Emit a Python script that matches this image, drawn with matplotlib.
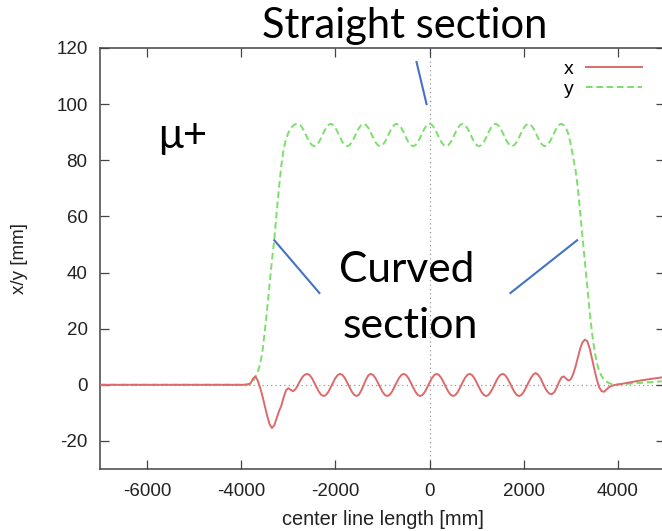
import matplotlib
matplotlib.use("Agg")
import matplotlib.pyplot as plt

plt.rcParams["axes.unicode_minus"] = False

# sample positions along the centre line [mm]
pos_mm = [-7000] + list(range(-4000, 4001, 50)) + [4500, 5000]

# horizontal offset x [mm]
x_mm = [
    0.0,
    # -4000 .. -3650
    0.0, 0.0, 0.1, 0.2, 0.6, 2.2, 3.0, 1.5,
    # -3600 .. -2650
    -1.0, -4.0, -7.5, -11.0, -14.0, -15.4, -14.5, -12.0, -9.5, -7.5,
    -4.5, -2.0, -1.2, -1.8, -2.3, -1.6, -0.2, 1.4, 2.8, 3.6,
    # -2600 .. 2600
    3.9, 3.5, 2.4, 0.8, -0.9, -2.5, -3.6, -4.0, -3.6, -2.5, -0.9, 0.8, 2.4, 3.5,
    3.9, 3.5, 2.4, 0.8, -0.9, -2.5, -3.6, -4.0, -3.5, -2.0, 0.0, 1.9, 3.4, 3.9,
    3.5, 2.4, 0.8, -0.9, -2.5, -3.6, -4.0, -3.6, -2.5, -0.9, 0.8, 2.4, 3.5, 3.9,
    3.5, 2.4, 0.8, -0.9, -2.5, -3.6, -4.0, -3.6, -2.5, -0.9, 0.8, 2.4, 3.5, 3.9,
    3.5, 2.4, 0.8, -0.9, -2.5, -3.6, -4.0, -3.6, -2.5, -0.9, 0.8, 2.4, 3.5, 3.9,
    3.5, 2.4, 0.8, -0.9, -2.5, -3.6, -4.0, -3.6, -2.5, -0.9, 0.8, 2.4, 3.5, 3.9,
    3.5, 2.4, 0.8, -0.9, -2.5, -3.6, -4.0, -3.6, -2.5, -0.9, 0.8, 2.4, 3.6, 4.2,
    3.7, 2.5, 0.8, -1.0, -2.4, -3.2, -3.3,
    # 2650 .. 4000
    -2.6, -1.0, 1.0, 2.6, 3.0, 2.2, 1.5, 2.0, 3.8, 6.5,
    9.8, 13.0, 15.2, 16.1, 15.5, 13.0, 9.2, 5.5, 2.0, -0.8,
    -2.2, -2.5, -1.8, -1.0, -0.5, -0.2, 0.0, 0.1,
    1.6, 2.8,
]

# vertical offset y [mm]
y_mm = [
    0.0,
    # -4000 .. -3650
    0.0, 0.0, 0.0, 0.1, 0.4, 1.2, 2.8, 4.6,
    # -3600 .. -2850
    7.3, 12.0, 19.0, 27.0, 35.5, 44.0, 51.5, 61.0, 70.0, 78.0,
    84.0, 87.5, 89.8, 91.3, 92.3, 92.9,
    # -2800 .. 2800
    93.0, 92.6, 91.5, 89.9, 88.1, 86.5, 85.4, 85.0, 85.4, 86.5, 88.1, 89.9, 91.5, 92.6,
    93.0, 92.6, 91.5, 89.9, 88.1, 86.5, 85.4, 85.0, 85.4, 86.5, 88.1, 89.9, 91.5, 92.6,
    93.0, 92.6, 91.5, 89.9, 88.1, 86.5, 85.4, 85.0, 85.4, 86.5, 88.1, 89.9, 91.5, 92.6,
    93.0, 92.6, 91.5, 89.9, 88.1, 86.5, 85.4, 85.0, 85.4, 86.5, 88.1, 89.9, 91.5, 92.6,
    93.0, 92.6, 91.5, 89.9, 88.1, 86.5, 85.4, 85.0, 85.4, 86.5, 88.1, 89.9, 91.5, 92.6,
    93.0, 92.6, 91.5, 89.9, 88.1, 86.5, 85.4, 85.0, 85.4, 86.5, 88.1, 89.9, 91.5, 92.6,
    93.0, 92.6, 91.5, 89.9, 88.1, 86.5, 85.4, 85.0, 85.4, 86.5, 88.1, 89.9, 91.5, 92.6,
    93.0, 92.6, 91.5, 89.9, 88.1, 86.5, 85.4, 85.0, 85.4, 86.5, 88.1, 89.9, 91.5, 92.6,
    93.0,
    # 2850 .. 4000
    92.5, 91.3, 89.3, 85.5, 81.0, 76.5, 70.0, 61.0, 52.5, 43.5,
    35.0, 26.0, 18.5, 12.5, 8.0, 5.0, 3.2, 2.0, 1.2, 0.7,
    0.4, 0.2, 0.1, 0.1,
    0.7, 1.3,
]

xticks = [-6000, -4000, -2000, 0, 2000, 4000]
yticks = [-20, 0, 20, 40, 60, 80, 100, 120]

W, H = 662, 531
fig = plt.figure(figsize=(W / 100, H / 100), dpi=100)
# right frame edge sits just past the image border
ax = fig.add_axes([100 / W, 62 / H, 565 / W, 421 / H])

tick_family = ["Liberation Sans", "DejaVu Sans"]

ax.axhline(0, color="#9a9a9a", lw=0.9, ls=(0, (1, 2.5)), zorder=1)
ax.axvline(0, color="#9a9a9a", lw=0.9, ls=(0, (1, 2.5)), zorder=1)

ax.plot(pos_mm, x_mm, color="#dd6a6a", lw=1.4, label="x", zorder=3)
ax.plot(pos_mm, y_mm, color="#7ae06a", lw=1.4, ls=(0, (3.4, 1.9)), label="y", zorder=2)

ax.set_xlim(-7000, 5000)
ax.set_ylim(-30, 120)
ax.set_xticks(xticks)
ax.set_yticks(yticks)
ax.tick_params(direction="in", top=True, right=True, length=6.5, width=0.9,
               color="#444444", labelsize=13.5, labelcolor="#222222")
ax.tick_params(axis="y", pad=9)
ax.tick_params(axis="x", pad=10)
for lab in ax.get_xticklabels() + ax.get_yticklabels():
    lab.set_family(tick_family)
for sp in ax.spines.values():
    sp.set_color("#444444")
    sp.set_linewidth(1.1)

ax.set_xlabel("center line length [mm]", fontsize=14.4, color="#222222",
              family=tick_family, labelpad=7)
ax.set_ylabel("x/y [mm]", fontsize=13.5, color="#222222",
              family=tick_family, labelpad=20)

ax.legend(loc="upper right", bbox_to_anchor=(642 / W, 1 - 60 / H),
          bbox_transform=fig.transFigure, frameon=False, markerfirst=False,
          prop=dict(family=tick_family, size=14),
          handlelength=2.9, handletextpad=0.6, labelspacing=0.12,
          borderpad=0, borderaxespad=0)

# slide annotations
blue = "#4472c4"
ax.plot([-3298, -2340], [51.5, 32.7], color=blue, lw=1.5, zorder=4)
ax.plot([1717, 3134], [32.7, 51.5], color=blue, lw=1.5, zorder=4)
ax.plot([-277, -64], [115.0, 100.0], color=blue, lw=1.5, zorder=4)

slide_family = ["Lato", "DejaVu Sans"]
fig.text(405 / W, 1 - 38 / H, "Straight section", ha="center", va="baseline",
         fontsize=30, family=slide_family)
fig.text(407 / W, 1 - 282 / H, "Curved", ha="center", va="baseline",
         fontsize=30.5, family=slide_family)
fig.text(410 / W, 1 - 338 / H, "section", ha="center", va="baseline",
         fontsize=31, family=slide_family)
fig.text(158 / W, 1 - 148 / H, "\u03bc+", ha="left", va="baseline",
         fontsize=30, family=slide_family)

fig.savefig("out.png", dpi=100)
